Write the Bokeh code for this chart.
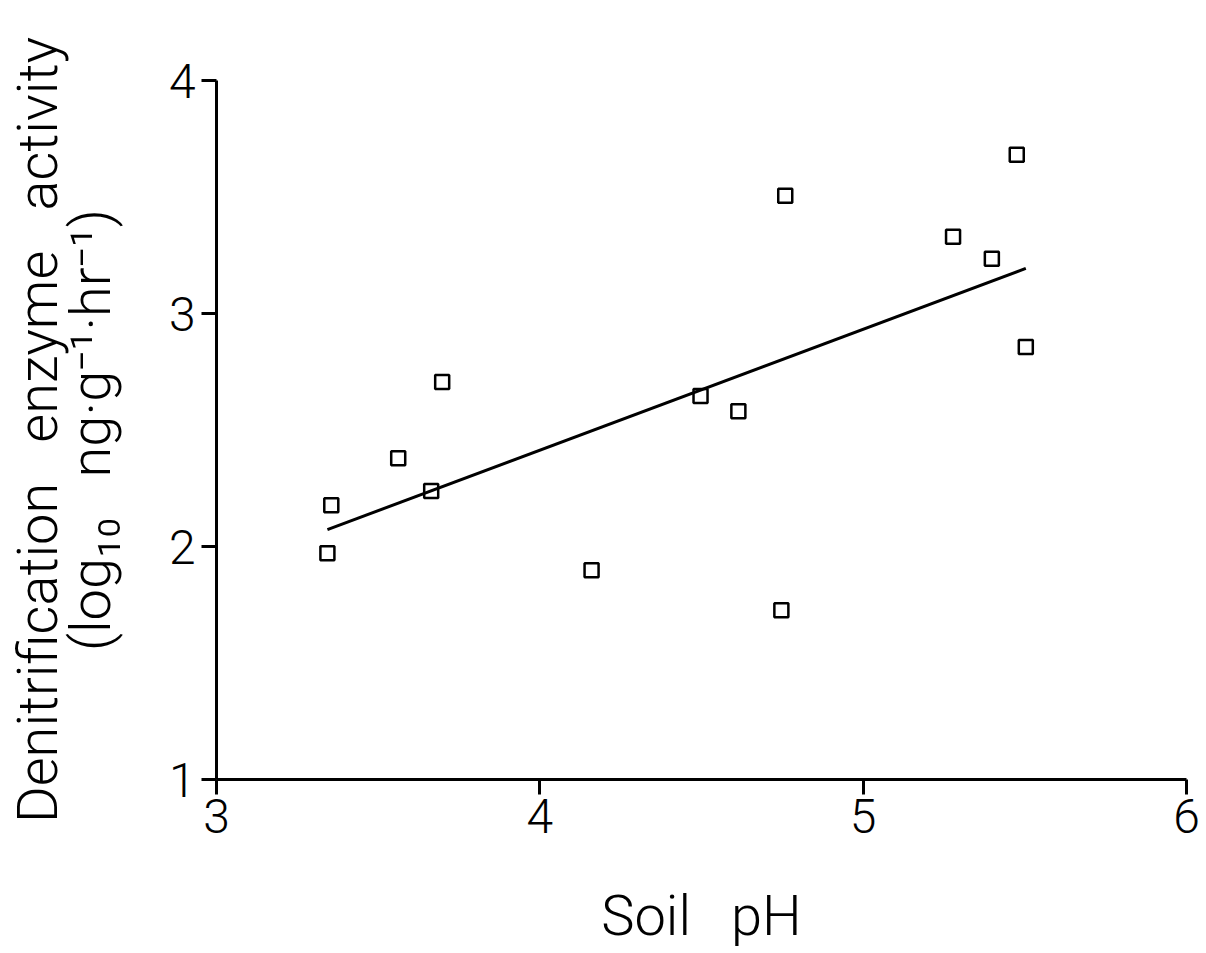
import numpy as np
from bokeh.plotting import figure
from bokeh.models import Range1d, FixedTicker
from bokeh.embed import file_html
from bokeh.resources import INLINE

# Soil pH and denitrification enzyme activity (log10 ng g-1 hr-1) per site
soil_ph = [3.343, 3.355, 3.562, 3.664, 3.698, 4.160, 4.497,
           4.614, 4.747, 4.759, 5.278, 5.398, 5.475, 5.503]
log_dea = [1.971, 2.177, 2.379, 2.238, 2.706, 1.898, 2.646,
           2.581, 1.726, 3.505, 3.329, 3.235, 3.681, 2.856]

x_ticks = [3, 4, 5, 6]
y_ticks = [1, 2, 3, 4]

# wide word gaps (en space + thin space) as in the plotter lettering
GAP = "\u2002\u2009"
x_title = "Soil" + GAP + "pH"
y_title_1 = "Denitrification" + GAP + "enzyme" + GAP + "activity"
y_title_2 = "(log\u2081\u2080" + GAP + "ng\u00b7g\u207b\u00b9\u00b7hr\u207b\u00b9)"

# thin-stroke lettering, falling back to the regular weight
FONT = "Roboto Light, Roboto"

p = figure(width=1206, height=953,
           x_range=Range1d(3, 6), y_range=Range1d(1, 4),
           output_backend="svg", toolbar_location=None,
           min_border_left=216, min_border_right=20,
           min_border_top=80, min_border_bottom=174)
p.outline_line_color = None
p.grid.visible = False
p.background_fill_color = "white"
p.border_fill_color = "white"

for ax in (p.xaxis[0], p.yaxis[0]):
    ax.axis_line_width = 3
    ax.axis_line_color = "black"
    ax.major_tick_line_width = 3
    ax.major_tick_line_color = "black"
    ax.major_tick_in = 0
    ax.major_tick_out = 15
    ax.minor_tick_line_color = None
    ax.major_label_text_font = FONT
    ax.major_label_text_font_size = "48px"
    ax.major_label_text_color = "black"
    ax.axis_label_text_font = FONT
    ax.axis_label_text_font_size = "56px"
    ax.axis_label_text_font_style = "normal"
    ax.axis_label_text_color = "black"

p.xaxis.ticker = FixedTicker(ticks=x_ticks)
p.yaxis.ticker = FixedTicker(ticks=y_ticks)
p.xaxis.major_label_standoff = 4
p.yaxis.major_label_standoff = 6

p.xaxis.axis_label = x_title
p.xaxis.axis_label_text_line_height = 0.9
p.xaxis.axis_label_standoff = 47
p.yaxis.axis_label = y_title_1 + "\n" + y_title_2
p.yaxis.axis_label_text_line_height = 0.8
p.yaxis.axis_label_standoff = 42

# least-squares regression line across the observed pH span
slope, intercept = np.polyfit(soil_ph, log_dea, 1)
fit_x = [min(soil_ph), max(soil_ph)]
fit_y = [intercept + slope * v for v in fit_x]
p.line(fit_x, fit_y, line_width=3, line_color="black")

p.scatter(soil_ph, log_dea, marker="square", size=14,
          fill_color=None, line_color="black", line_width=2.5)

open("out.html", "w").write(file_html(p, INLINE))
